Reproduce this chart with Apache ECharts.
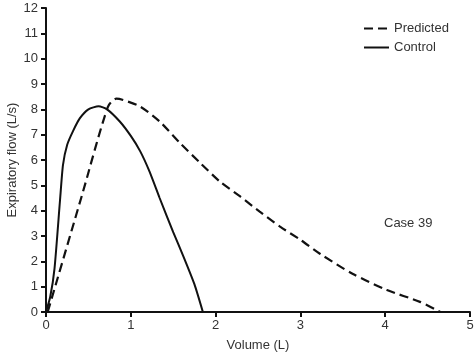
<!DOCTYPE html>
<html>
<head>
    <meta charset="utf-8">
    <title>Case 39</title>
    <script src="https://cdn.jsdelivr.net/npm/echarts@6/dist/echarts.min.js"></script>
    <style>
        html, body { margin: 0; padding: 0; background: #fff; }
        #chart { width: 475px; height: 353px; }
    </style>
</head>
<body>
    <div id="chart"></div>
    <script>
        // 数据
        const xTicks = [0, 1, 2, 3, 4, 5];
        const yTicks = [0, 1, 2, 3, 4, 5, 6, 7, 8, 9, 10, 11, 12];
        const predicted = [
            [0.02, 0], [0.42, 4.56], [0.73, 8.1], [0.83, 8.42], [0.9, 8.38],
            [1.11, 8.11], [1.34, 7.52], [1.58, 6.67], [1.82, 5.88], [2.05, 5.15],
            [2.29, 4.56], [2.52, 3.96], [2.76, 3.37], [3.0, 2.85], [3.23, 2.3],
            [3.62, 1.5], [4.02, 0.87], [4.41, 0.4], [4.65, 0]
        ];
        const control = [
            [0, 0], [0.05, 0.6], [0.1, 1.7], [0.165, 4.4], [0.2, 5.8], [0.25, 6.6],
            [0.32, 7.15], [0.4, 7.65], [0.5, 8.0], [0.62, 8.12],
            [0.72, 8.0], [0.87, 7.52], [1.0, 6.95], [1.11, 6.35],
            [1.22, 5.55], [1.34, 4.5], [1.5, 3.15], [1.62, 2.2], [1.75, 1.1], [1.85, 0]
        ];

        const chart = echarts.init(document.getElementById('chart'));
        const font = 'Liberation Sans, Arial, sans-serif';

        chart.setOption({
            animation: false,
            textStyle: { fontFamily: font },
            grid: { left: 46, right: 5, top: 8, bottom: 41, outerBoundsMode: 'none', containLabel: false },
            legend: {
                orient: 'vertical',
                left: 358,
                top: 17,
                itemWidth: 25,
                itemHeight: 14,
                itemGap: 6,
                itemStyle: { opacity: 0 },
                textStyle: { fontSize: 13, color: '#333', fontFamily: font },
                data: ['Predicted', 'Control']
            },
            graphic: [{
                type: 'text',
                left: 384,
                top: 217,
                style: { text: 'Case 39', font: '13px ' + font, fill: '#333' }
            }],
            xAxis: {
                type: 'value',
                min: xTicks[0],
                max: xTicks[xTicks.length - 1],
                interval: 1,
                name: 'Volume (L)',
                nameLocation: 'middle',
                nameGap: 27,
                nameMoveOverlap: false,
                nameTextStyle: { fontSize: 13, color: '#333' },
                axisLine: { lineStyle: { color: '#111', width: 2 } },
                axisTick: { length: 5, lineStyle: { color: '#111', width: 2 } },
                axisLabel: { fontSize: 13, color: '#333', margin: 7 },
                splitLine: { show: false }
            },
            yAxis: {
                type: 'value',
                min: yTicks[0],
                max: yTicks[yTicks.length - 1],
                interval: 1,
                name: 'Expiratory flow (L/s)',
                nameLocation: 'middle',
                nameGap: 27,
                nameMoveOverlap: false,
                nameTextStyle: { fontSize: 13, color: '#333' },
                axisLine: { show: true, lineStyle: { color: '#111', width: 2 } },
                axisTick: { show: true, length: 5, lineStyle: { color: '#111', width: 2 } },
                axisLabel: { fontSize: 13, color: '#333', margin: 8 },
                splitLine: { show: false }
            },
            series: [{
                name: 'Predicted',
                type: 'line',
                data: predicted,
                symbol: 'none',
                smooth: 0.25,
                lineStyle: { color: '#111', width: 2.2, type: [9, 5] },
                itemStyle: { color: '#111' }
            }, {
                name: 'Control',
                type: 'line',
                data: control,
                symbol: 'none',
                smooth: 0.2,
                lineStyle: { color: '#111', width: 2 },
                itemStyle: { color: '#111' }
            }]
        });
    </script>
</body>
</html>
